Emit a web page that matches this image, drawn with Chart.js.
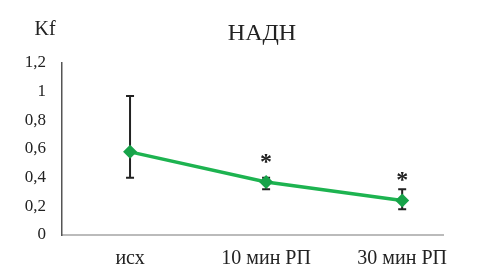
<!DOCTYPE html>
<html>
<head>
<meta charset="utf-8">
<script src="https://cdn.jsdelivr.net/npm/chart.js@4"></script>
<style>
  html, body { margin: 0; padding: 0; background: #fff; }
  #wrap { width: 488px; height: 278px; }
</style>
</head>
<body>
<div id="wrap"><canvas id="chart" width="488" height="278"></canvas></div>
<script>
const categories = ["исх", "10 мин РП", "30 мин РП"];
const values = [0.58, 0.37, 0.24];
const errLow = [0.40, 0.32, 0.18];
const errHigh = [0.97, 0.40, 0.32];
const starAt = [null, 0.54, 0.41];
const yTicks = [0, 0.2, 0.4, 0.6, 0.8, 1, 1.2];

const serif = "'Liberation Serif', 'Times New Roman', 'DejaVu Serif', serif";

// error bars, asterisks, title and axis label
const extras = {
    id: "extras",
    beforeDatasetsDraw(chart) {
        const { ctx, scales: { x, y } } = chart;
        ctx.save();
        ctx.strokeStyle = "#222";
        ctx.lineWidth = 2;
        values.forEach((v, i) => {
            const px = x.getPixelForValue(i);
            const top = y.getPixelForValue(errHigh[i]);
            const bot = y.getPixelForValue(errLow[i]);
            ctx.beginPath();
            ctx.moveTo(px, top); ctx.lineTo(px, bot);
            ctx.moveTo(px - 4, top); ctx.lineTo(px + 4, top);
            ctx.moveTo(px - 4, bot); ctx.lineTo(px + 4, bot);
            ctx.stroke();
        });
        ctx.restore();
    },
    afterDraw(chart) {
        const { ctx, scales: { x, y } } = chart;
        ctx.save();
        ctx.fillStyle = "#222";
        ctx.textAlign = "center";
        ctx.textBaseline = "middle";
        ctx.font = "bold 24px " + serif;
        starAt.forEach((s, i) => {
            if (s === null) return;
            ctx.fillText("*", x.getPixelForValue(i), y.getPixelForValue(s) + 5);
        });
        ctx.font = "24px " + serif;
        ctx.fillText("НАДН", 262, 34);
        ctx.font = "20px " + serif;
        ctx.fillText("Kf", 45, 30);
        ctx.restore();
    }
};

function draw() {
    new Chart(document.getElementById("chart"), {
        type: "line",
        data: {
            datasets: [{
                data: values.map((v, i) => ({ x: i, y: v })),
                borderColor: "#1db350",
                borderWidth: 3.5,
                backgroundColor: "#17a349",
                pointStyle: "rectRot",
                pointRadius: 7,
                pointBorderWidth: 0,
                tension: 0
            }]
        },
        options: {
            animation: false,
            responsive: false,
            events: [],
            layout: { padding: { top: 63, right: 45, left: 0, bottom: 0 } },
            plugins: { legend: { display: false }, tooltip: { enabled: false } },
            scales: {
                x: {
                    type: "linear",
                    min: -0.5,
                    max: 2.3,
                    afterBuildTicks: s => { s.ticks = categories.map((c, i) => ({ value: i })); },
                    afterFit: s => { s.height = 43; },
                    grid: { display: false, drawTicks: false },
                    border: { color: "#bbb", width: 2 },
                    ticks: {
                        callback: v => categories[v],
                        color: "#222",
                        padding: 12,
                        maxRotation: 0,
                        font: { family: serif, size: 20 }
                    }
                },
                y: {
                    min: 0,
                    max: 1.2,
                    afterBuildTicks: s => { s.ticks = yTicks.map(v => ({ value: v })); },
                    afterFit: s => { s.width = 62; },
                    grid: { display: false, drawTicks: false },
                    border: { color: "#555", width: 1.5 },
                    ticks: {
                        callback: v => String(v).replace(".", ","),
                        color: "#222",
                        padding: 16,
                        font: { family: serif, size: 17 }
                    }
                }
            }
        },
        plugins: [extras]
    });
}

Promise.all([
    document.fonts.load("18px 'Liberation Serif'"),
    document.fonts.load("bold 24px 'Liberation Serif'")
]).then(draw, draw);
</script>
</body>
</html>
